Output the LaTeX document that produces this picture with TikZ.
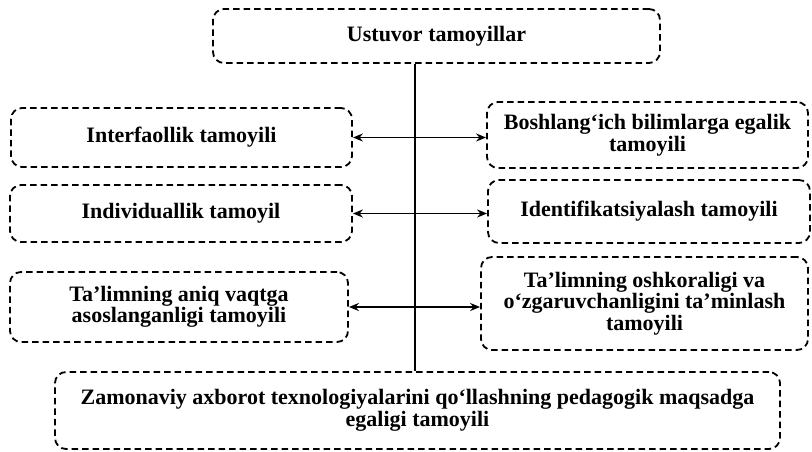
\documentclass[tikz,border=0pt]{standalone}
\usepackage{fontspec}
\setmainfont{Liberation Serif}
\usetikzlibrary{arrows.meta}
\begin{document}
\begin{tikzpicture}[x=1pt,y=-1pt,
  pbox/.style={draw=black, line width=1.8pt, dash pattern=on 6.5pt off 4pt,
    rounded corners=11pt, align=center, inner sep=0pt,
    font=\fontsize{22}{21.5}\selectfont\bfseries},
  link/.style={line width=1.5pt, {Stealth[length=10pt,width=8pt]}-{Stealth[length=10pt,width=8pt]}},
  stem/.style={line width=1.5pt}]
\useasboundingbox (0,0) rectangle (812,452);
\node[pbox, minimum width=447pt, minimum height=54pt] (top) at (436.5,36) {Ustuvor tamoyillar};
\node[pbox, minimum width=341pt, minimum height=59pt] (l1) at (181.5,137.5) {Interfaollik tamoyili};
\node[pbox, minimum width=342pt, minimum height=57pt] (l2) at (181,213.5) {Individuallik tamoyil};
\node[pbox, minimum width=338pt, minimum height=70pt] (l3) at (179,307) {Ta’limning aniq vaqtga\\asoslanganligi tamoyili};
\node[pbox, minimum width=321pt, minimum height=66pt] (r1) at (647.5,135) {Boshlang‘ich bilimlarga egalik\\tamoyili};
\node[pbox, minimum width=322pt, minimum height=63pt] (r2) at (649,211.5) {Identifikatsiyalash tamoyili};
\node[pbox, minimum width=327pt, minimum height=93pt] (r3) at (644.5,303.5) {Ta’limning oshkoraligi va\\o‘zgaruvchanligini ta’minlash\\tamoyili};
\node[pbox, minimum width=725pt, minimum height=77pt] (bot) at (417.5,410.5) {Zamonaviy axborot texnologiyalarini qo‘llashning pedagogik maqsadga\\egaligi tamoyili};
\coordinate (vx) at (415,0);
\draw[stem] (top.south -| vx) -- (bot.north -| vx);
\draw[link] (l1.east) -- (l1.east -| r1.west);
\draw[link] (l2.east) -- (l2.east -| r2.west);
\draw[link] (l3.east) -- (l3.east -| r3.west);
\end{tikzpicture}
\end{document}
